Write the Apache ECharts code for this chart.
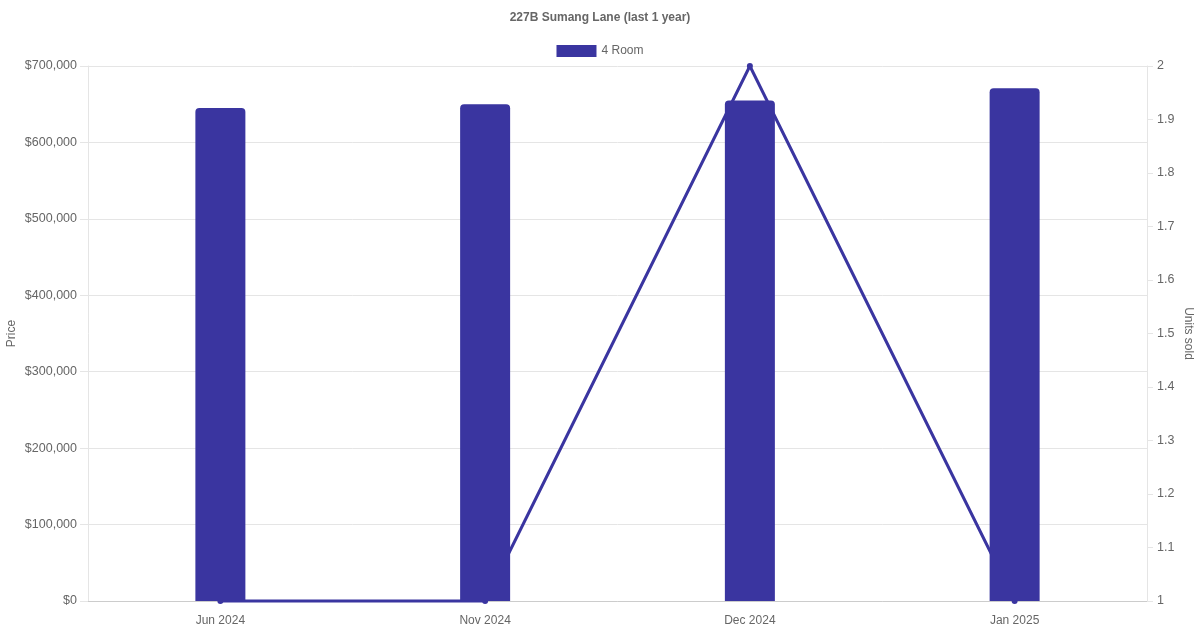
<!DOCTYPE html>
<html>
<head>
<meta charset="utf-8">
<script src="https://cdn.jsdelivr.net/npm/echarts@6/dist/echarts.min.js"></script>
<style>
  html, body { margin: 0; padding: 0; background: #fff; }
  #chart-container { width: 1200px; height: 630px; }
</style>
</head>
<body>
<div id="chart-container"></div>
<script>
// data
const months = ['Jun 2024', 'Nov 2024', 'Dec 2024', 'Jan 2025'];
const prices = [645000, 650000, 655000, 671000];
const unitsSold = [1, 1, 2, 1];

const FONT = '"Liberation Sans", Arial, sans-serif';
const TEXT = '#666';
const GRIDC = '#e5e5e5';
const BLUE = '#3a35a0';

const chart = echarts.init(document.getElementById('chart-container'));
chart.setOption({
    animation: false,
    textStyle: { fontFamily: FONT },
    title: {
        text: '227B Sumang Lane (last 1 year)',
        left: 'center',
        top: 7,
        textStyle: { fontSize: 12, fontWeight: 'bold', color: TEXT, fontFamily: FONT }
    },
    legend: {
        data: ['4 Room'],
        top: 40,
        left: 'center',
        icon: 'rect',
        itemWidth: 40,
        itemHeight: 12,
        itemGap: 10,
        textStyle: { fontSize: 12, color: TEXT, fontFamily: FONT }
    },
    grid: { left: 88, right: 53, top: 66, bottom: 29, containLabel: false, outerBoundsMode: 'none' },
    xAxis: {
        type: 'category',
        data: months,
        boundaryGap: true,
        axisLine: { show: true, lineStyle: { color: '#cccccc', width: 1 } },
        axisTick: { show: false },
        splitLine: { show: false },
        axisLabel: { color: TEXT, fontSize: 12, margin: 14, fontFamily: FONT }
    },
    yAxis: [
        {
            type: 'value',
            min: 0,
            max: 700000,
            interval: 100000,
            name: 'Price',
            nameLocation: 'middle',
            nameRotate: 90,
            nameGap: 70,
            nameMoveOverlap: false,
            nameTextStyle: { color: TEXT, fontSize: 12, fontFamily: FONT },
            axisLine: { show: true, lineStyle: { color: GRIDC } },
            axisTick: { show: true, length: 8, lineStyle: { color: GRIDC } },
            splitLine: { show: true, lineStyle: { color: GRIDC } },
            axisLabel: {
                color: TEXT, fontSize: 12.5, margin: 11, fontFamily: FONT,
                formatter: v => '$' + v.toLocaleString('en-US')
            }
        },
        {
            type: 'value',
            min: 1,
            max: 2,
            interval: 0.1,
            position: 'right',
            name: 'Units sold',
            nameLocation: 'middle',
            nameRotate: -90,
            nameGap: 35,
            nameMoveOverlap: false,
            nameTextStyle: { color: TEXT, fontSize: 12, fontFamily: FONT },
            axisLine: { show: true, lineStyle: { color: GRIDC } },
            axisTick: { show: true, length: 6, lineStyle: { color: GRIDC } },
            splitLine: { show: false },
            axisLabel: {
                color: TEXT, fontSize: 12.5, margin: 10, fontFamily: FONT,
                formatter: v => String(Math.round(v * 10) / 10)
            }
        }
    ],
    series: [
        {
            name: 'Units',
            type: 'line',
            yAxisIndex: 1,
            data: unitsSold,
            z: 1,
            clip: false,
            symbol: 'circle',
            symbolSize: 6,
            showAllSymbol: true,
            lineStyle: { color: BLUE, width: 3 },
            itemStyle: { color: BLUE }
        },
        {
            name: '4 Room',
            type: 'bar',
            yAxisIndex: 0,
            data: prices,
            z: 3,
            barWidth: 50,
            itemStyle: { color: BLUE, borderRadius: [4, 4, 0, 0] }
        }
    ]
});
</script>
</body>
</html>
